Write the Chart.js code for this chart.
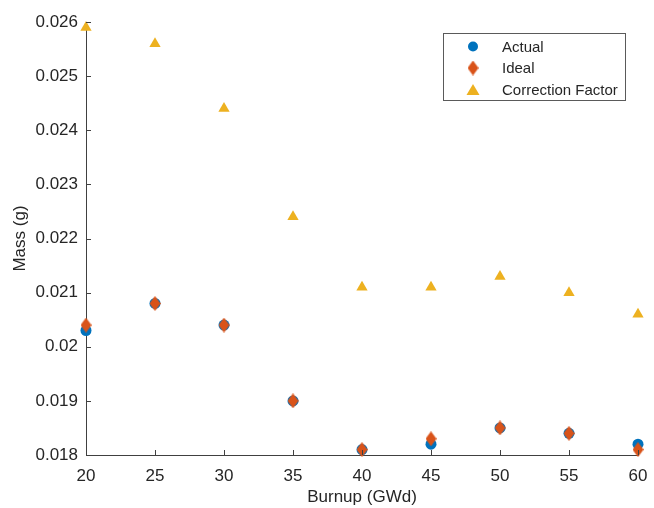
<!DOCTYPE html>
<html lang="en">
<head>
    <meta charset="UTF-8">
    <title>Mass vs Burnup</title>
    <script src="https://cdn.jsdelivr.net/npm/chart.js"></script>
    <style>
        html, body { margin: 0; padding: 0; background: #fff; }
        #wrap { width: 654px; height: 508px; }
    </style>
</head>
<body>
<div id="wrap"><canvas id="massChart" width="654" height="508"></canvas></div>
<script>
    // data
    var burnup = [20, 25, 30, 35, 40, 45, 50, 55, 60];
    var actual = [0.0203, 0.0208, 0.0204, 0.0190, 0.0181, 0.0182, 0.0185, 0.0184, 0.0182];
    var ideal = [0.0204, 0.0208, 0.0204, 0.0190, 0.0181, 0.0183, 0.0185, 0.0184, 0.0181];
    var correction = [0.0259, 0.0256, 0.0244, 0.0224, 0.0211, 0.0211, 0.0213, 0.0210, 0.0206];
    var seriesNames = ['Actual', 'Ideal', 'Correction Factor'];

    var blue = '#0072BD', orange = '#D95319', yellow = '#EDB120';
    var axisColor = '#404040', textColor = '#262626';
    var fontFamily = "'Liberation Sans', Arial, sans-serif";

    function pts(ys) {
        return burnup.map(function (x, i) { return { x: x, y: ys[i] }; });
    }

    // matlab-like diamond (taller than wide)
    var diamond = document.createElement('canvas');
    diamond.width = 11; diamond.height = 15;
    (function () {
        var c = diamond.getContext('2d');
        c.fillStyle = orange;
        c.beginPath();
        c.moveTo(5.5, 0); c.lineTo(11, 7.5); c.lineTo(5.5, 15); c.lineTo(0, 7.5);
        c.closePath(); c.fill();
    })();

    // inward tick marks + boxed legend
    var extras = {
        id: 'extras',
        afterDraw: function (chart) {
            var ctx = chart.ctx, xs = chart.scales.x, ys = chart.scales.y;
            var area = chart.chartArea;
            ctx.save();
            ctx.strokeStyle = axisColor;
            ctx.lineWidth = 1;
            ctx.beginPath();
            xs.ticks.forEach(function (t) {
                var px = Math.round(xs.getPixelForValue(t.value)) + 0.5;
                ctx.moveTo(px, area.bottom); ctx.lineTo(px, area.bottom - 5);
            });
            ys.ticks.forEach(function (t) {
                var py = Math.round(ys.getPixelForValue(t.value)) + 0.5;
                ctx.moveTo(area.left, py); ctx.lineTo(area.left + 5, py);
            });
            ctx.stroke();

            // legend
            var bx = 443.5, by = 33.5, bw = 182, bh = 67;
            ctx.fillStyle = '#fff';
            ctx.fillRect(bx, by, bw, bh);
            ctx.strokeStyle = '#5a5a5a';
            ctx.strokeRect(bx, by, bw, bh);
            ctx.font = '15px ' + fontFamily;
            ctx.fillStyle = textColor;
            ctx.textBaseline = 'middle';
            var rowY = [46.5, 68, 90];
            var mx = 473;
            chart.data.datasets.forEach(function (ds, i) {
                var y = rowY[i];
                if (i === 0) {
                    ctx.fillStyle = blue;
                    ctx.beginPath(); ctx.arc(mx, y, 5, 0, Math.PI * 2); ctx.fill();
                } else if (i === 1) {
                    ctx.drawImage(diamond, mx - 5.5, y - 7.5);
                } else {
                    ctx.fillStyle = yellow;
                    ctx.beginPath();
                    ctx.moveTo(mx, y - 6); ctx.lineTo(mx + 6.5, y + 5); ctx.lineTo(mx - 6.5, y + 5);
                    ctx.closePath(); ctx.fill();
                }
                ctx.fillStyle = textColor;
                ctx.fillText(ds.label, 502, y + 1);
            });
            ctx.restore();
        }
    };

    var ctx = document.getElementById('massChart').getContext('2d');
    var chart = new Chart(ctx, {
        type: 'scatter',
        data: {
            datasets: [{
                label: seriesNames[0],
                data: pts(actual),
                order: 3,
                clip: false,
                pointStyle: 'circle',
                pointRadius: 5.5,
                backgroundColor: blue,
                borderColor: blue,
                borderWidth: 0
            }, {
                label: seriesNames[1],
                data: pts(ideal),
                order: 2,
                clip: false,
                pointStyle: diamond,
                pointRadius: 6,
                backgroundColor: orange,
                borderColor: orange
            }, {
                label: seriesNames[2],
                data: pts(correction),
                order: 1,
                clip: false,
                pointStyle: 'triangle',
                pointRadius: 6.5,
                backgroundColor: yellow,
                borderColor: yellow,
                borderWidth: 0
            }]
        },
        options: {
            responsive: false,
            animation: false,
            layout: { padding: { top: 22, right: 16, left: 0, bottom: 0 } },
            plugins: {
                legend: { display: false },
                tooltip: { enabled: false }
            },
            scales: {
                x: {
                    type: 'linear',
                    min: 20, max: 60,
                    grid: { display: false, drawTicks: false },
                    border: { display: true, color: axisColor, width: 1 },
                    ticks: {
                        stepSize: 5,
                        padding: 11,
                        color: textColor,
                        font: { family: fontFamily, size: 17 }
                    },
                    title: {
                        display: true,
                        text: 'Burnup (GWd)',
                        color: textColor,
                        font: { family: fontFamily, size: 17 },
                        padding: { top: 4, bottom: 0 }
                    },
                    afterFit: function (s) { s.height = 53; s.paddingRight = 0; s.paddingLeft = 0; }
                },
                y: {
                    min: 0.018, max: 0.026,
                    grid: { display: false, drawTicks: false },
                    border: { display: true, color: axisColor, width: 1 },
                    ticks: {
                        stepSize: 0.001,
                        padding: 8,
                        color: textColor,
                        font: { family: fontFamily, size: 17 },
                        callback: function (v) { return String(Number(v.toFixed(3))); }
                    },
                    title: {
                        display: true,
                        text: 'Mass (g)',
                        color: textColor,
                        font: { family: fontFamily, size: 17 },
                        padding: { top: 10, bottom: 0 }
                    },
                    afterFit: function (s) { s.width = 86; s.paddingTop = 0; s.paddingBottom = 0; }
                }
            }
        },
        plugins: [extras]
    });
</script>
</body>
</html>
